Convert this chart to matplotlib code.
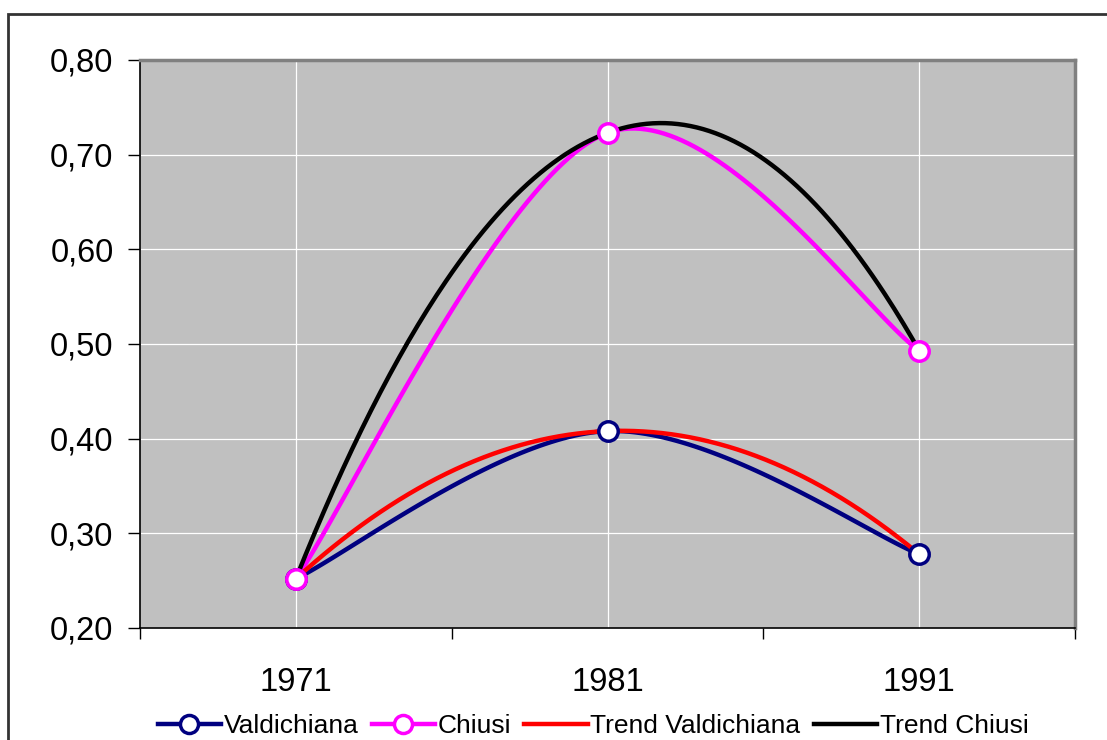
import numpy as np
import matplotlib
matplotlib.use("Agg")
import matplotlib.pyplot as plt
from matplotlib.patches import Rectangle
from matplotlib.ticker import FixedLocator

plt.rcParams["font.family"] = ["Liberation Sans", "DejaVu Sans"]

# --------- data ----------------------------------
years = ["1971", "1981", "1991"]
valdichiana = [0.252, 0.408, 0.278]
chiusi = [0.252, 0.723, 0.493]
y_ticks = [0.20, 0.30, 0.40, 0.50, 0.60, 0.70, 0.80]


def excel_smooth(xs, ys, n=60):
    """Excel-like smoothed line: Bezier segments, control points at 1/6 tangent."""
    pts = np.column_stack([xs, ys]).astype(float)
    out = []
    for i in range(len(pts) - 1):
        p0 = pts[max(i - 1, 0)]
        p1 = pts[i]
        p2 = pts[i + 1]
        p3 = pts[min(i + 2, len(pts) - 1)]
        c1 = p1 + (p2 - p0) / 6.0
        c2 = p2 - (p3 - p1) / 6.0
        t = np.linspace(0, 1, n)[:, None]
        seg = ((1 - t) ** 3) * p1 + 3 * ((1 - t) ** 2) * t * c1 \
            + 3 * (1 - t) * t ** 2 * c2 + t ** 3 * p2
        out.append(seg if i == 0 else seg[1:])
    seg = np.vstack(out)
    return seg[:, 0], seg[:, 1]


def poly_trend(xs, ys, n=200):
    coef = np.polyfit(xs, ys, 2)
    xx = np.linspace(xs[0], xs[-1], n)
    return xx, np.polyval(coef, xx)


x = np.arange(len(years))

fig = plt.figure(figsize=(11.07, 7.40), dpi=100)
fig.patch.set_facecolor("white")
# outer chart border
fig.patches.append(Rectangle((8 / 1107, -0.05), 1.2, 1 - 14 / 740 + 0.05,
                             transform=fig.transFigure, fill=False,
                             edgecolor="#333333", linewidth=2.0))

ax = fig.add_axes([140 / 1107, 1 - 628 / 740, 935 / 1107, 568 / 740])
ax.set_facecolor("#C0C0C0")

ax.set_xlim(-0.5, len(years) - 0.5)
ax.set_ylim(0.2, 0.8)

ax.set_yticks(y_ticks)
ax.set_yticklabels([f"{v:.2f}".replace(".", ",") for v in y_ticks], fontsize=23.5)
ax.set_xticks(x)
ax.set_xticklabels(years, fontsize=23.5)
ax.tick_params(axis="x", length=0, pad=28)
ax.xaxis.set_minor_locator(FixedLocator(np.arange(-0.5, len(years), 1.0)))
ax.tick_params(axis="x", which="minor", length=8, width=1, color="black", direction="out")
ax.tick_params(axis="y", length=9, width=1, direction="out", pad=10)

ax.grid(True, axis="both", color="white", linewidth=0.9)
ax.set_axisbelow(True)
for s in ["top", "right"]:
    ax.spines[s].set_color("#808080")
    ax.spines[s].set_linewidth(2.5)
for s in ["left", "bottom"]:
    ax.spines[s].set_color("black")
    ax.spines[s].set_linewidth(1.2)

lw = 3.2
tx, ty = poly_trend(x, chiusi)
tx2, ty2 = poly_trend(x, valdichiana)

sx, sy = excel_smooth(x, valdichiana)
ax.plot(sx, sy, color="#000080", lw=lw, zorder=3)
sx, sy = excel_smooth(x, chiusi)
ax.plot(sx, sy, color="#FF00FF", lw=lw, zorder=3)
ax.plot(tx2, ty2, color="#FF0000", lw=lw, zorder=4)
ax.plot(tx, ty, color="black", lw=lw, zorder=4)
ax.plot(x, valdichiana, ls="none", marker="o", ms=14, mfc="white",
        mec="#000080", mew=2.5, zorder=5)
ax.plot(x, chiusi, ls="none", marker="o", ms=14, mfc="white",
        mec="#FF00FF", mew=2.5, zorder=5)

handles = [
    plt.Line2D([], [], color="#000080", lw=lw, marker="o", ms=13, mfc="white", mew=2.5),
    plt.Line2D([], [], color="#FF00FF", lw=lw, marker="o", ms=13, mfc="white", mew=2.5),
    plt.Line2D([], [], color="#FF0000", lw=lw),
    plt.Line2D([], [], color="black", lw=lw),
]
labels = ["Valdichiana", "Chiusi", "Trend Valdichiana", "Trend Chiusi"]
fig.legend(handles, labels, loc="center", bbox_to_anchor=(593 / 1107, 1 - 726 / 740),
           ncol=4, frameon=False, fontsize=19, handlelength=2.4,
           handletextpad=0.1, columnspacing=0.5)

fig.savefig("out.png", dpi=100)
